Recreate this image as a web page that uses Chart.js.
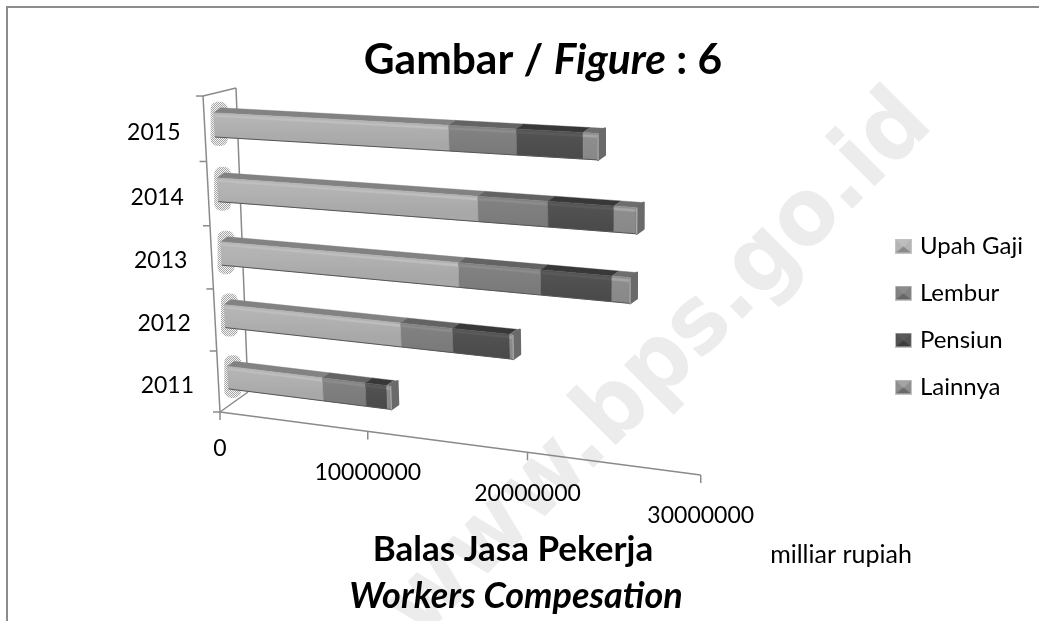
<!DOCTYPE html>
<html><head><meta charset="utf-8">
<script src="https://cdn.jsdelivr.net/npm/chart.js@4"></script>
<style>html,body{margin:0;padding:0;background:#fff}canvas{display:block}</style>
</head><body><canvas id="c" width="1039" height="621"></canvas>
<script>
const years = ['2011','2012','2013','2014','2015'];
const upahGaji = [6500000,11720000,15420000,16660000,15000000];
const lembur = [2830000,3250000,4910000,4120000,4000000];
const pensiun = [1370000,3470000,4090000,3750000,3800000];
const lainnya = [250000,190000,1020000,1270000,840000];
const seriesNames = ['Upah Gaji','Lembur','Pensiun','Lainnya'];
const xTickValues = [0,10000000,20000000,30000000];
const titleText = ['Gambar / ','Figure',' : 6'];
const axisTitle1 = 'Balas Jasa Pekerja';
const axisTitle2 = 'Workers Compesation';
const unitText = 'milliar rupiah';
const watermark = 'www.bps.go.id';

const FONT='Lato, "Open Sans", sans-serif';
const shades=[
 {a:'#b4b4b4',b:'#a8a8a8',t:'#828282',h:'#bebebe',s:'#8a8a8a'},
 {a:'#828282',b:'#7a7a7a',t:'#636363',h:'#8c8c8c',s:'#666'},
 {a:'#535353',b:'#4a4a4a',t:'#383838',h:'#5a5a5a',s:'#3c3c3c'},
 {a:'#8e8e8e',b:'#888888',t:'#6e6e6e',h:'#a4a4a4',s:'#6a6a6a'}
];
function proj(u,v){
  const w=1-0.1125*u-0.043*v;
  return [(220+401.9*u-25.7*v)/w,(412+9.6*u-320.1*v)/w];
}
const OFF=[9.5,-4], DEPTH=[7,-5];
function barPt(u,v,dx=0,dy=0){const p=proj(u,v);return [p[0]+OFF[0]+dx,p[1]+OFF[1]+dy];}
function quad(ctx,pts,fill){ctx.beginPath();pts.forEach((p,i)=>i?ctx.lineTo(p[0],p[1]):ctx.moveTo(p[0],p[1]));ctx.closePath();ctx.fillStyle=fill;ctx.fill();ctx.strokeStyle=fill;ctx.lineWidth=.4;ctx.stroke();}
function stipple(ctx){
  const c=document.createElement('canvas');c.width=c.height=2;const g=c.getContext('2d');
  g.fillStyle='#f4f4f4';g.fillRect(0,0,2,2);g.fillStyle='#a6a6a6';g.fillRect(0,0,1,1);g.fillRect(1,1,1,1);
  return ctx.createPattern(c,'repeat');
}
function legendIcon(sh){
  const c=document.createElement('canvas');c.width=17;c.height=15;const g=c.getContext('2d');
  g.fillStyle=sh.a;g.fillRect(1,1,15,13);
  g.fillStyle=sh.h;g.beginPath();g.moveTo(1,1);g.lineTo(16,1);g.lineTo(8.5,9);g.closePath();g.fill();
  g.fillStyle=sh.s;g.beginPath();g.moveTo(1,14);g.lineTo(16,14);g.lineTo(8.5,8);g.closePath();g.fill();
  g.strokeStyle='#888';g.setLineDash([1,1]);g.strokeRect(.5,.5,16,14);
  return c;
}
const icons=shades.map(legendIcon);

const drawer={
 id:'drawer',
 beforeDraw(chart){
  const ctx=chart.ctx;
  ctx.save();
  ctx.fillStyle='#fff';ctx.fillRect(0,0,chart.width,chart.height);
  ctx.translate(935,126);ctx.rotate(-Math.PI/4);ctx.scale(.94,1);
  ctx.font='bold 93px "DejaVu Sans", sans-serif';
  ctx.fillStyle='#ececec';ctx.textAlign='right';ctx.textBaseline='alphabetic';
  ctx.fillText(watermark,0,0);
  ctx.restore();
  ctx.save();ctx.strokeStyle='#8c8c8c';ctx.lineWidth=2;
  ctx.beginPath();ctx.moveTo(7,chart.height);ctx.lineTo(7,7);ctx.lineTo(chart.width,7);ctx.stroke();ctx.restore();
  ctx.save();ctx.fillStyle='#000';ctx.textBaseline='alphabetic';
  const fonts=['bold 42.5px '+FONT,'italic bold 42.5px '+FONT,'bold 42.5px '+FONT];
  let tw=0;titleText.forEach((t,i)=>{ctx.font=fonts[i];tw+=ctx.measureText(t).width;});
  let x=543-tw/2;titleText.forEach((t,i)=>{ctx.font=fonts[i];ctx.fillText(t,x,74);x+=ctx.measureText(t).width;});
  ctx.textAlign='center';
  ctx.font='bold 35px '+FONT;ctx.fillText(axisTitle1,513,561);
  ctx.font='italic bold 36px '+FONT;ctx.fillText(axisTitle2,516,608);
  ctx.font='25px '+FONT;ctx.fillText(unitText,841,563);
  ctx.restore();
 },
 beforeDatasetsDraw(chart){
  const ctx=chart.ctx,area=chart.chartArea,xs=chart.scales.x,ys=chart.scales.y;
  const U=px=>(px-area.left)/area.width, V=px=>(area.bottom-px)/area.height;
  ctx.save();
  ctx.strokeStyle='#8a8a8a';ctx.lineWidth=1.5;
  const line=(a,b)=>{ctx.beginPath();ctx.moveTo(a[0],a[1]);ctx.lineTo(b[0],b[1]);ctx.stroke();};
  const o=proj(0,0),t=proj(0,1),e=proj(1,0);
  line(o,t);line(o,e);
  line(t,[236,88]);line(o,[248,392]);line([236,88],[248,392]);
  const n=ys.ticks.length;
  for(let i=0;i<=n;i++){const p=proj(0,i/n);line(p,[p[0]-7,p[1]]);}
  ctx.fillStyle='#000';ctx.font='23px '+FONT;ctx.textAlign='center';ctx.textBaseline='middle';
  xs.ticks.forEach(tk=>{
    const p=proj(U(xs.getPixelForValue(tk.value)),0);
    line(p,[p[0],p[1]+8]);
    ctx.fillText(String(tk.value),p[0],p[1]+(tk.value===0?37:41));
  });
  ys.ticks.forEach((tk,i)=>{
    const p=proj(0,V(ys.getPixelForTick(i)));
    ctx.fillText(ys.getLabelForValue(tk.value),p[0]-51,p[1]+3.5);
  });
  const pat=stipple(ctx);
  const metas=chart.getSortedVisibleDatasetMetas();
  const rows=years.map((_,i)=>i).reverse();
  rows.forEach(i=>{
    const first=metas[0].data[i];
    const fv=V(first.y);const h=first.height/area.height;
    const v0=fv-h/2,v1=fv+h/2;
    const b=barPt(0,v0),a=barPt(0,v1);
    ctx.fillStyle=pat;
    ctx.beginPath();ctx.roundRect(a[0]-3,a[1]-11,17,(b[1]-a[1])+20,7);ctx.fill();
    metas.forEach((m,si)=>{
      const el=m.data[i],sh=shades[si];
      const u0=U(el.base),u1=U(el.x);
      const A=barPt(u0,v1),B=barPt(u1,v1),C=barPt(u1,v0),D=barPt(u0,v0);
      quad(ctx,[A,B,barPt(u1,v1,DEPTH[0],DEPTH[1]),barPt(u0,v1,DEPTH[0],DEPTH[1])],sh.t);
      const g=ctx.createLinearGradient(0,(A[1]+B[1])/2,0,(C[1]+D[1])/2);
      g.addColorStop(0,sh.a);g.addColorStop(1,sh.b);
      quad(ctx,[A,B,C,D],g);
      const hv=h*0.16,hv2=h*0.07;
      quad(ctx,[barPt(u0,v1-hv2),barPt(u1,v1-hv2),barPt(u1,v1-hv),barPt(u0,v1-hv)],sh.h);
      ctx.strokeStyle='#555';ctx.lineWidth=1;line(D,C);
      if(si===metas.length-1){
        const pts=[B,barPt(u1,v1,DEPTH[0],DEPTH[1]),barPt(u1,v0,DEPTH[0],DEPTH[1]),C];
        ctx.save();ctx.lineJoin='round';
        ctx.beginPath();pts.forEach((p,k)=>k?ctx.lineTo(p[0],p[1]):ctx.moveTo(p[0],p[1]));ctx.closePath();
        ctx.fillStyle=sh.s;ctx.fill();ctx.strokeStyle=sh.s;ctx.lineWidth=2;ctx.stroke();
        ctx.strokeStyle='#a8a8a8';ctx.lineWidth=1.5;line(B,C);
        ctx.restore();
      }
    });
  });
  ctx.restore();
  return false;
 }
};

new Chart(document.getElementById('c'),{
 type:'bar',
 data:{labels:years,datasets:[upahGaji,lembur,pensiun,lainnya].map((d,i)=>({
   label:seriesNames[i],data:d,backgroundColor:shades[i].a,barPercentage:0.37,categoryPercentage:1,stack:'s'}))},
 options:{
  indexAxis:'y',responsive:false,animation:false,
  layout:{padding:{left:200,right:6,top:12,bottom:0}},
  scales:{
   x:{display:false,stacked:true,min:0,max:30000000,afterBuildTicks(s){s.ticks=xTickValues.map(v=>({value:v}));}},
   y:{display:false,stacked:true,reverse:true}
  },
  plugins:{
   tooltip:{enabled:false},
   title:{display:false},
   legend:{position:'right',align:'center',
    labels:{usePointStyle:true,boxWidth:9,boxHeight:15,padding:23,font:{family:FONT,size:24},color:'#000',
     generateLabels(c){return c.data.datasets.map((d,i)=>({text:d.label,fillStyle:shades[i].a,strokeStyle:shades[i].a,lineWidth:0,pointStyle:icons[i],datasetIndex:i,hidden:false}));}}
   }
  }
 },
 plugins:[drawer]
});
</script></body></html>
